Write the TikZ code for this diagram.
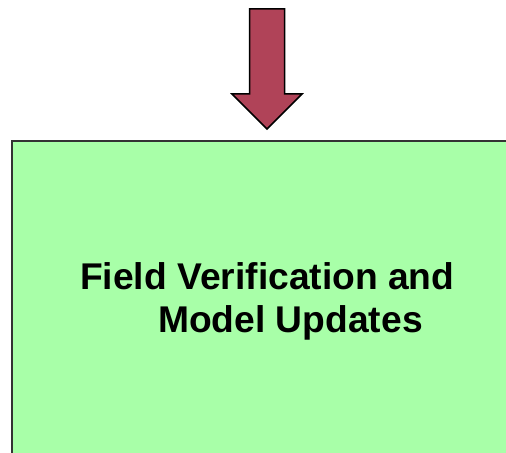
\documentclass[tikz,border=0pt]{standalone}
\usepackage{fontspec}
\setmainfont{Liberation Sans}
\usetikzlibrary{positioning}
\definecolor{boxgreen}{HTML}{A8FFA8}
\definecolor{arrowred}{HTML}{B04358}
\definecolor{boxline}{HTML}{333333}

\begin{document}
\begin{tikzpicture}[x=1bp,y=1bp,
stagebox/.style={fill=boxgreen, anchor=north west, minimum width=504bp, minimum height=322bp, inner sep=0pt},
boxedge/.style={draw=boxline, line width=1.8bp},
downarrow/.style={draw=black, line width=1.5bp, fill=arrowred, line join=miter},
stagelabel/.style={font=\bfseries\fontsize{37.2bp}{43bp}\selectfont, align=left, inner sep=0pt}]
\useasboundingbox (0,0) rectangle (506,453);
\node[stagebox] (fieldbox) at (12,312) {};
\draw[boxedge] (fieldbox.south west) -- (fieldbox.north west) -- (fieldbox.north east);
\coordinate (tip) at (267,324);
\draw[downarrow] (249.5,444) -- (284.5,444) -- (284.5,359) -- (302,359) -- (tip) -- (232,359) -- (249.5,359) -- cycle;
% base sits on the second line
\node[stagelabel, anchor=base west] (fieldlabel) at (80,120) {Field Verification and\\\hspace*{78bp}Model Updates};
\end{tikzpicture}
\end{document}
